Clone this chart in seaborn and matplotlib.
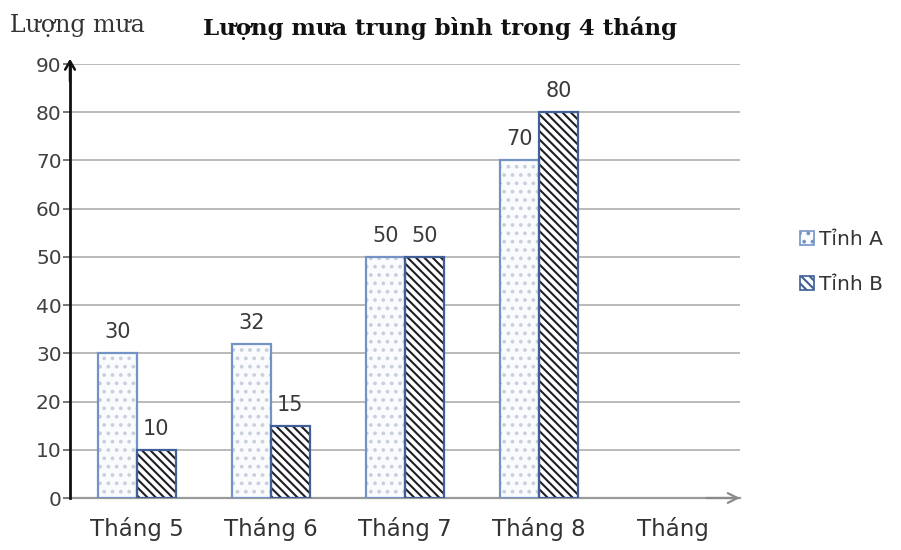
import matplotlib
matplotlib.use("Agg")
import matplotlib.pyplot as plt
from matplotlib.patches import Patch, Rectangle
import seaborn as sns
import pandas as pd

# Rainfall data for two provinces over four months
months = ["Tháng 5", "Tháng 6", "Tháng 7", "Tháng 8"]
provinces = ["Tỉnh A", "Tỉnh B"]
rain_a = [30, 32, 50, 70]
rain_b = [10, 15, 50, 80]
y_ticks = [0, 10, 20, 30, 40, 50, 60, 70, 80, 90]
x_axis_name = "Tháng"
y_axis_name = "Lượng mưa"
title = "Lượng mưa trung bình trong 4 tháng"

df = pd.DataFrame({
    "month": months * 2,
    "province": [provinces[0]] * len(months) + [provinces[1]] * len(months),
    "rain": rain_a + rain_b,
})

sns.set_style("white")
plt.rcParams["font.family"] = ["DejaVu Sans"]
plt.rcParams["hatch.linewidth"] = 1.5

styles = {
    "Tỉnh A": dict(face="#fafbfd", hatch="..", hatch_color="#c8cfdd", edge="#7393c6"),
    "Tỉnh B": dict(face="#ffffff", hatch="\\\\\\\\", hatch_color="#1e1e24", edge="#3f5f96"),
}

fig = plt.figure(figsize=(9.01, 5.5), dpi=100)
ax = fig.add_axes([70 / 901, 52 / 550, 670 / 901, 434 / 550])

sns.barplot(data=df, x="month", y="rain", hue="province", order=months,
            hue_order=provinces, width=0.58, palette=["#ffffff", "#ffffff"],
            legend=False, ax=ax, zorder=3)

for container, prov in zip(ax.containers, provinces):
    st = styles[prov]
    for bar in container:
        bar.set_facecolor(st["face"])
        bar.set_hatch(st["hatch"])
        bar.set_edgecolor(st["hatch_color"])
        bar.set_linewidth(0)
        outline = Rectangle(bar.get_xy(), bar.get_width(), bar.get_height(),
                            fill=False, edgecolor=st["edge"], linewidth=1.6, zorder=4)
        ax.add_patch(outline)
    ax.bar_label(container, labels=[str(int(v)) for v in container.datavalues],
                 padding=8, fontsize=15, color="#3a3a3a")

ax.set_xlim(-0.5, 4.5)
ax.set_ylim(0, 90)
ax.set_yticks(y_ticks)
ax.set_yticklabels([str(t) for t in y_ticks], fontsize=14.5, color="#404040")
ax.set_xticks(range(len(months) + 1))
ax.set_xticklabels(months + [x_axis_name], fontsize=16.5, color="#333333")
ax.set_xticks([i - 0.5 for i in range(6)], minor=True)
ax.tick_params(axis="x", which="major", length=0, pad=14)
ax.tick_params(axis="x", which="minor", length=6, width=1.2, color="#a0a0a0")
ax.tick_params(axis="y", length=5, width=1.2, color="#606060", pad=1, left=True)
ax.set_xlabel("")
ax.set_ylabel("")

ax.yaxis.grid(True, color="#b4b4b4", linewidth=1.3, zorder=0)
ax.set_axisbelow(True)
for side in ["top", "right"]:
    ax.spines[side].set_visible(False)
ax.spines["left"].set_color("#111111")
ax.spines["left"].set_linewidth(2)
ax.spines["left"].set_zorder(5)
ax.spines["bottom"].set_color("#9a9a9a")
ax.spines["bottom"].set_linewidth(1.6)

# Arrow heads on both axes
ax.annotate("", xy=(0, 1.012), xycoords="axes fraction", xytext=(0, 0.96),
            textcoords="axes fraction",
            arrowprops=dict(arrowstyle="->,head_width=0.35,head_length=0.6",
                            color="#111111", lw=1.8, shrinkA=0, shrinkB=0),
            annotation_clip=False)
ax.annotate("", xy=(1.0, 0), xycoords="axes fraction", xytext=(0.95, 0),
            textcoords="axes fraction",
            arrowprops=dict(arrowstyle="->,head_width=0.35,head_length=0.7",
                            color="#8a8a8a", lw=1.6, shrinkA=0, shrinkB=0),
            annotation_clip=False)

fig.text(0.011, 0.953, y_axis_name, family=["DejaVu Serif"],
         fontsize=17, color="#333333", ha="left", va="center")
fig.text(0.488, 0.949, title, family=["DejaVu Serif"], fontweight="bold",
         fontsize=16.5, color="#111111", ha="center", va="center")

handles = []
for prov in provinces:
    st = styles[prov]
    handles.append(Patch(facecolor=st["face"], hatch=st["hatch"],
                         edgecolor=st["edge"], linewidth=1.2, label=prov))
fig.legend(handles=handles, loc="center left", bbox_to_anchor=(0.877, 0.523),
           frameon=False, fontsize=14.5, handlelength=0.7, handleheight=0.7,
           handletextpad=0.25, labelspacing=1.3, borderpad=0, labelcolor="#333333")

fig.savefig("out.png", dpi=100)
